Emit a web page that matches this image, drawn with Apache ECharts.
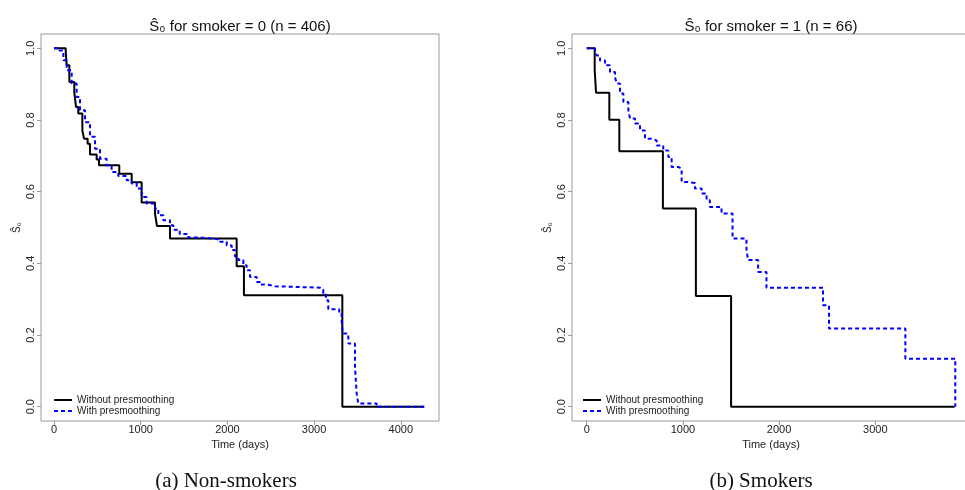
<!DOCTYPE html>
<html lang="en">
<head>
<meta charset="UTF-8">
<title>S0 by smoker</title>
<script src="https://cdn.jsdelivr.net/npm/echarts/dist/echarts.min.js"></script>
<style>
  body { margin: 0; background: #fff; }
  #chart { width: 965px; height: 490px; }
</style>
</head>
<body>
<div id="chart"></div>
<script>
// Non-smokers (smoker = 0)
var tBlackA = [0, 135, 146, 177, 234, 254, 280, 327, 346, 388, 415, 492, 519, 753, 896, 1011, 1165, 1188, 1338, 2107, 2191, 3326, 4271];
var sBlackA = [1, 0.992, 0.953, 0.906, 0.878, 0.836, 0.818, 0.771, 0.748, 0.734, 0.704, 0.690, 0.674, 0.650, 0.626, 0.570, 0.539, 0.504, 0.469, 0.392, 0.311, 0, 0];
var tBlueA = [0, 61, 108, 146, 204, 261, 300, 358, 415, 473, 531, 607, 665, 742, 838, 896, 954, 1011, 1069, 1165, 1203, 1261, 1338, 1376, 1450, 1550, 1684, 1838, 1915, 1992, 2050, 2088, 2126, 2184, 2222, 2261, 2338, 2376, 2453, 2549, 3068, 3106, 3137, 3164, 3290, 3318, 3330, 3395, 3472, 3491, 3510, 3722, 4271];
var sBlueA = [1, 0.994, 0.967, 0.939, 0.902, 0.864, 0.827, 0.794, 0.753, 0.720, 0.692, 0.674, 0.655, 0.644, 0.632, 0.623, 0.609, 0.585, 0.567, 0.553, 0.534, 0.520, 0.506, 0.494, 0.482, 0.472, 0.469, 0.466, 0.460, 0.450, 0.437, 0.419, 0.409, 0.395, 0.381, 0.362, 0.348, 0.341, 0.336, 0.332, 0.327, 0.316, 0.297, 0.272, 0.262, 0.241, 0.204, 0.176, 0.111, 0.037, 0.009, 0, 0];

// Smokers (smoker = 1)
var tBlackB = [0, 83, 97, 235, 339, 792, 1135, 1501, 3825];
var sBlackB = [1, 0.939, 0.876, 0.801, 0.713, 0.553, 0.309, 0, 0];
var tBlueB = [0, 87, 104, 138, 190, 242, 294, 311, 346, 381, 433, 450, 502, 554, 606, 675, 727, 796, 848, 883, 952, 987, 1056, 1126, 1195, 1246, 1280, 1402, 1516, 1661, 1678, 1782, 1869, 2457, 2519, 3313, 3832];
var sBlueB = [1, 0.994, 0.980, 0.966, 0.953, 0.934, 0.920, 0.902, 0.874, 0.850, 0.827, 0.804, 0.790, 0.771, 0.748, 0.743, 0.729, 0.715, 0.697, 0.669, 0.664, 0.627, 0.624, 0.609, 0.595, 0.576, 0.557, 0.539, 0.469, 0.437, 0.409, 0.376, 0.332, 0.283, 0.218, 0.134, 0];

var xTicksA = [0, 1000, 2000, 3000, 4000];
var xTicksB = [0, 1000, 2000, 3000];
var yTicks = [0, 0.2, 0.4, 0.6, 0.8, 1.0];

function pairs(t, s) {
  var out = [];
  for (var i = 0; i < t.length; i++) out.push([t[i], s[i]]);
  return out;
}

var font = 'Liberation Sans';
var grey = '#9a9a9a';

function xAx(idx, min, max, ticks) {
  return {
    type: 'value', gridIndex: idx, min: min, max: max,
    name: 'Time (days)', nameLocation: 'middle', nameGap: 16,
    nameTextStyle: { fontFamily: font, fontSize: 11, color: '#222' },
    axisLine: { show: false, onZero: false },
    axisTick: { show: true, length: 4, customValues: ticks, lineStyle: { color: grey } },
    axisLabel: { customValues: ticks, margin: 3, fontFamily: font, fontSize: 11, color: '#222',
      formatter: function (v) { return String(v); } },
    splitLine: { show: false }
  };
}
function yAx(idx) {
  return {
    type: 'value', gridIndex: idx, min: -0.04, max: 1.04,
    name: 'Ŝ₀', nameLocation: 'middle', nameGap: 19,
    nameTextStyle: { fontFamily: font, fontSize: 10, color: '#222' },
    axisLine: { show: false, onZero: false },
    axisTick: { show: true, length: 4, customValues: yTicks, lineStyle: { color: grey } },
    axisLabel: {
      customValues: yTicks, rotate: 90, margin: 5, fontFamily: font, fontSize: 11, color: '#222',
      formatter: function (v) { return v.toFixed(1); }
    },
    splitLine: { show: false }
  };
}

function line(name, idx, data, color, dashed) {
  return {
    name: name, type: 'line', step: 'end', xAxisIndex: idx, yAxisIndex: idx,
    data: data, symbol: 'none', showSymbol: false,
    lineStyle: { color: color, width: 2, type: dashed ? [4, 3] : 'solid' },
    itemStyle: { color: color }
  };
}

function legendAt(left) {
  return {
    left: left, top: 390, orient: 'vertical', itemGap: 1, itemWidth: 18, itemHeight: 12,
    itemStyle: { opacity: 0 },
    textStyle: { fontFamily: font, fontSize: 10, color: '#222' },
    data: ['Without presmoothing', 'With presmoothing']
  };
}

var chart = echarts.init(document.getElementById('chart'));
chart.setOption({
  animation: false,
  title: [
    { text: 'Ŝ₀ for smoker = 0 (n = 406)', left: 235, top: 14, textAlign: 'center',
      textStyle: { fontFamily: font, fontSize: 15, fontWeight: 'normal', color: '#111' } },
    { text: 'Ŝ₀ for smoker = 1 (n = 66)', left: 766, top: 14, textAlign: 'center',
      textStyle: { fontFamily: font, fontSize: 15, fontWeight: 'normal', color: '#111' } },
    { text: '(a) Non-smokers', left: 221, top: 466, textAlign: 'center',
      textStyle: { fontFamily: 'Liberation Serif', fontSize: 21, fontWeight: 'normal', color: '#111' } },
    { text: '(b) Smokers', left: 756, top: 466, textAlign: 'center',
      textStyle: { fontFamily: 'Liberation Serif', fontSize: 21, fontWeight: 'normal', color: '#111' } }
  ],
  legend: [legendAt(48), legendAt(577)],
  grid: [
    { left: 41, top: 34, width: 398, height: 387, show: true, borderColor: grey, borderWidth: 1, outerBoundsMode: 'none' },
    { left: 572, top: 34, width: 398, height: 387, show: true, borderColor: grey, borderWidth: 1, outerBoundsMode: 'none' }
  ],
  xAxis: [xAx(0, -150, 4441, xTicksA), xAx(1, -153, 3985, xTicksB)],
  yAxis: [yAx(0), yAx(1)],
  series: [
    line('Without presmoothing', 0, pairs(tBlackA, sBlackA), '#000000', false),
    line('With presmoothing', 0, pairs(tBlueA, sBlueA), '#0000ff', true),
    line('Without presmoothing', 1, pairs(tBlackB, sBlackB), '#000000', false),
    line('With presmoothing', 1, pairs(tBlueB, sBlueB), '#0000ff', true)
  ]
});
</script>
</body>
</html>
